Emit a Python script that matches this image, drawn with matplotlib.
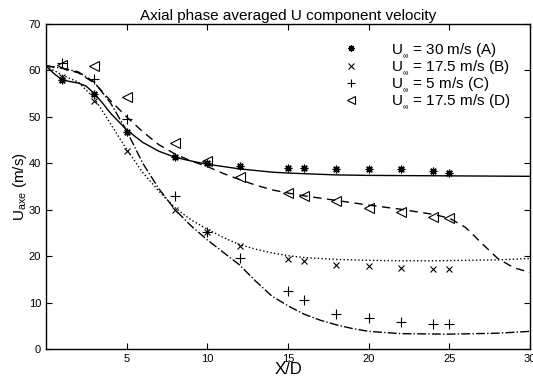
import matplotlib.pyplot as plt
import numpy as np

plt.rcParams['font.family'] = ['Liberation Sans', 'DejaVu Sans']
plt.rcParams['mathtext.fontset'] = 'custom'
plt.rcParams['mathtext.rm'] = 'Liberation Sans'
plt.rcParams['mathtext.it'] = 'Liberation Sans'

# measured points
x_pts = [1, 3, 5, 8, 10, 12, 15, 16, 18, 20, 22, 24, 25]
u_a = [58.0, 55.0, 46.8, 41.3, 40.0, 39.4, 39.0, 39.0, 38.8, 38.8, 38.7, 38.3, 37.9]
u_b = [58.5, 53.4, 42.6, 30.0, 25.2, 22.2, 19.4, 18.9, 18.0, 17.9, 17.4, 17.3, 17.2]
u_c = [61.6, 58.1, 49.5, 33.0, 25.3, 19.7, 12.4, 10.5, 7.5, 6.7, 5.8, 5.4, 5.3]
u_d = [61.2, 60.9, 54.2, 44.4, 40.5, 37.1, 33.6, 33.0, 31.9, 30.3, 29.6, 28.5, 28.2]

# fitted curves
xa_fit = [0, 0.5, 1, 1.5, 2, 2.5, 3, 3.5, 4, 4.5, 5, 6, 7, 8, 9, 10, 12, 14, 15, 18, 20, 25, 30]
ua_fit = [61.0, 59.3, 58.0, 57.6, 57.3, 56.6, 55.0, 53.0, 50.8, 49.0, 47.2, 44.5, 42.6, 41.3,
          40.5, 39.8, 38.8, 38.1, 37.9, 37.5, 37.4, 37.3, 37.2]
xb_fit = [0, 0.5, 1, 2, 3, 4, 5, 6, 7, 8, 9, 10, 11, 12, 13, 14, 15, 16, 18, 20, 22, 24, 26, 28, 30]
ub_fit = [61.0, 60.0, 59.0, 57.5, 54.0, 48.5, 43.0, 38.0, 34.0, 30.4, 27.8, 25.8, 24.0, 22.5,
          21.5, 20.7, 20.1, 19.7, 19.3, 19.1, 19.0, 19.0, 19.1, 19.2, 19.5]
xc_fit = [0, 1, 2, 3, 4, 5, 6, 7, 8, 9, 10, 11, 12, 13, 14, 15, 16, 17, 18, 19, 20, 22, 25, 28, 30]
uc_fit = [61.0, 60.5, 59.7, 57.5, 53.0, 47.0, 40.0, 34.5, 30.0, 26.5, 23.5, 20.8, 18.1, 14.6,
          11.4, 9.3, 7.5, 6.2, 5.2, 4.4, 3.8, 3.3, 3.2, 3.4, 3.8]
xd_fit = [0, 1, 2, 3, 4, 5, 6, 7, 8, 9, 10, 11, 12, 13, 14, 15, 16, 18, 20, 22, 24, 25, 26, 27,
          28, 29, 30]
ud_fit = [61.0, 60.5, 59.5, 57.3, 53.5, 50.0, 46.8, 44.0, 42.0, 40.5, 39.3, 37.8, 36.5, 35.3,
          34.3, 33.6, 33.0, 32.0, 31.0, 30.1, 29.0, 28.2, 26.2, 22.8, 19.5, 17.5, 16.5]

labels = [r'U$_{_\infty}$ = 30 m/s (A)', r'U$_{_\infty}$ = 17.5 m/s (B)',
          r'U$_{_\infty}$ = 5 m/s (C)', r'U$_{_\infty}$ = 17.5 m/s (D)']

fig = plt.figure(figsize=(5.33, 3.82), dpi=100)
ax = fig.add_axes([0.0863, 0.0864, 0.9081, 0.8506])

ax.plot(xa_fit, ua_fit, 'k-', lw=1)
ax.plot(xb_fit, ub_fit, 'k:', lw=1)
ax.plot(xc_fit, uc_fit, 'k-.', lw=1)
ax.plot(xd_fit, ud_fit, 'k--', lw=1, dashes=(6, 4))

ax.plot(x_pts, u_a, ls='none', marker=(8, 2, 0), ms=5.5, mec='k', mew=0.9, label=labels[0])
ax.plot(x_pts, u_b, ls='none', marker='x', ms=4.5, mec='k', mew=0.8, label=labels[1])
ax.plot(x_pts, u_c, ls='none', marker='+', ms=6.5, mec='k', mew=0.8, label=labels[2])
ax.plot(x_pts, u_d, ls='none', marker='<', ms=7, mfc='none', mec='k', mew=0.8, label=labels[3])

ax.set_xlim(0, 30)
ax.set_ylim(0, 70)
ax.set_xticks([5, 10, 15, 20, 25, 30])
ax.set_yticks(np.arange(0, 71, 10))
ax.tick_params(direction='in', top=True, right=True, labelsize=8, length=4)
for s in ax.spines.values():
    s.set_linewidth(1)

ax.set_title('Axial phase averaged U component velocity', fontsize=11, pad=3)
ax.set_xlabel('X/D', fontsize=12, labelpad=-1)
ax.set_ylabel(r'U$_{axe}$ (m/s)', fontsize=11, labelpad=0)

ax.legend(loc='upper right', frameon=False, fontsize=11, handletextpad=1.6,
          labelspacing=-0.08, borderaxespad=0.4, bbox_to_anchor=(0.985, 0.985),
          markerscale=0.85)

fig.savefig('out.png', dpi=100)
